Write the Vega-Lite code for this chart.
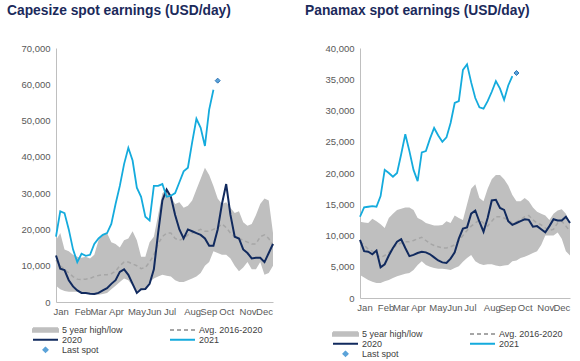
{
  "$schema": "https://vega.github.io/schema/vega-lite/v6.json",
  "background": "white",
  "padding": {"left": 7, "top": 4, "right": 5, "bottom": 5},
  "spacing": 28,
  "config": {
    "view": {"stroke": null},
    "font": "Liberation Sans",
    "axis": {"grid": false, "ticks": false, "domainColor": "#BFBFBF", "domainWidth": 1, "labelColor": "#595959", "labelFontSize": 9.5, "labelFont": "Liberation Sans", "title": null, "labelOverlap": false, "labelBound": false, "labelFlush": false},
    "axisY": {"labelPadding": 6},
    "axisX": {"labelPadding": 4},
    "title": {"fontSize": 13.8, "fontWeight": "bold", "color": "#1B2A5B", "anchor": "start", "font": "Liberation Sans", "frame": "group"},
    "legend": {"labelFont": "Liberation Sans", "labelFontSize": 9, "labelColor": "#404040", "symbolStrokeWidth": 2}
  },
  "datasets": {
    "cape": [
      {"week":1,"y2020":12800,"y2021":18000,"avg":11500,"high":17000,"low":4500},
      {"week":2,"y2020":9200,"y2021":25000,"avg":10000,"high":19000,"low":3500},
      {"week":3,"y2020":8800,"y2021":24500,"avg":9000,"high":14500,"low":3000},
      {"week":4,"y2020":6000,"y2021":20000,"avg":8000,"high":14000,"low":2800},
      {"week":5,"y2020":4300,"y2021":14500,"avg":7000,"high":13000,"low":2800},
      {"week":6,"y2020":3200,"y2021":11000,"avg":6300,"high":12500,"low":2800},
      {"week":7,"y2020":2500,"y2021":13300,"avg":6200,"high":12200,"low":2500},
      {"week":8,"y2020":2500,"y2021":12700,"avg":6300,"high":12500,"low":2500},
      {"week":9,"y2020":2300,"y2021":13000,"avg":6500,"high":12000,"low":2200},
      {"week":10,"y2020":2200,"y2021":16000,"avg":7000,"high":13000,"low":2000},
      {"week":11,"y2020":2500,"y2021":17500,"avg":7300,"high":17000,"low":2000},
      {"week":12,"y2020":3200,"y2021":18500,"avg":7500,"high":18500,"low":2200},
      {"week":13,"y2020":3800,"y2021":19000,"avg":7500,"high":19000,"low":2500},
      {"week":14,"y2020":5000,"y2021":21500,"avg":7800,"high":16500,"low":3500},
      {"week":15,"y2020":6000,"y2021":27000,"avg":8500,"high":16000,"low":4500},
      {"week":16,"y2020":8300,"y2021":32000,"avg":10000,"high":15000,"low":5500},
      {"week":17,"y2020":9000,"y2021":38000,"avg":11000,"high":17000,"low":6500},
      {"week":18,"y2020":7500,"y2021":42500,"avg":11000,"high":17500,"low":6000},
      {"week":19,"y2020":5000,"y2021":39000,"avg":10500,"high":19500,"low":4500},
      {"week":20,"y2020":2500,"y2021":31500,"avg":10000,"high":17000,"low":3000},
      {"week":21,"y2020":3500,"y2021":29000,"avg":9200,"high":12500,"low":3300},
      {"week":22,"y2020":3600,"y2021":23500,"avg":9500,"high":12500,"low":3500},
      {"week":23,"y2020":5000,"y2021":22500,"avg":11000,"high":16500,"low":5500},
      {"week":24,"y2020":9000,"y2021":32000,"avg":13000,"high":18000,"low":6500},
      {"week":25,"y2020":19000,"y2021":32000,"avg":16000,"high":24000,"low":7000},
      {"week":26,"y2020":28000,"y2021":32500,"avg":18000,"high":30000,"low":7500},
      {"week":27,"y2020":31000,"y2021":29000,"avg":19000,"high":31000,"low":7200},
      {"week":28,"y2020":29000,"y2021":29300,"avg":19000,"high":29000,"low":7000},
      {"week":29,"y2020":24000,"y2021":30000,"avg":17500,"high":27000,"low":6000},
      {"week":30,"y2020":20000,"y2021":33000,"avg":17000,"high":27500,"low":5500},
      {"week":31,"y2020":17500,"y2021":36000,"avg":17500,"high":26000,"low":5500},
      {"week":32,"y2020":20000,"y2021":37000,"avg":18500,"high":26500,"low":6000},
      {"week":33,"y2020":19500,"y2021":44000,"avg":19000,"high":28000,"low":6500},
      {"week":34,"y2020":19000,"y2021":50500,"avg":19500,"high":31000,"low":7000},
      {"week":35,"y2020":18500,"y2021":48000,"avg":20000,"high":34000,"low":8000},
      {"week":36,"y2020":17500,"y2021":43000,"avg":19500,"high":37000,"low":10000},
      {"week":37,"y2020":15500,"y2021":53000,"avg":19500,"high":35000,"low":11000},
      {"week":38,"y2020":15500,"y2021":58500,"avg":20000,"high":32000,"low":14000},
      {"week":39,"y2020":20000,"avg":20500,"high":28500,"low":13500},
      {"week":40,"y2020":27000,"avg":21500,"high":27000,"low":13000},
      {"week":41,"y2020":32500,"avg":20500,"high":27500,"low":13000},
      {"week":42,"y2020":24000,"avg":19000,"high":26000,"low":12000},
      {"week":43,"y2020":18000,"avg":18000,"high":24500,"low":10000},
      {"week":44,"y2020":17500,"avg":17500,"high":25000,"low":8500},
      {"week":45,"y2020":14500,"avg":17000,"high":22000,"low":9500},
      {"week":46,"y2020":13500,"avg":16500,"high":21000,"low":11000},
      {"week":47,"y2020":12000,"avg":16000,"high":21500,"low":9000},
      {"week":48,"y2020":12200,"avg":16000,"high":24000,"low":9000},
      {"week":49,"y2020":12200,"avg":18000,"high":27000,"low":11000},
      {"week":50,"y2020":11000,"avg":18500,"high":28500,"low":7500},
      {"week":51,"y2020":13500,"avg":17500,"high":28000,"low":8000},
      {"week":52,"y2020":16000,"avg":15500,"high":19000,"low":10000}
    ],
    "pana": [
      {"week":1,"y2020":9300,"y2021":13000,"avg":9000,"high":12200,"low":3700},
      {"week":2,"y2020":7500,"y2021":14500,"avg":8500,"high":12100,"low":3300},
      {"week":3,"y2020":7400,"y2021":14600,"avg":7800,"high":12000,"low":2900},
      {"week":4,"y2020":7000,"y2021":14700,"avg":7500,"high":12700,"low":2600},
      {"week":5,"y2020":7600,"y2021":14600,"avg":7000,"high":12300,"low":2400},
      {"week":6,"y2020":4900,"y2021":16300,"avg":6500,"high":11800,"low":2400},
      {"week":7,"y2020":5400,"y2021":20500,"avg":6800,"high":11200,"low":2700},
      {"week":8,"y2020":6800,"y2021":20000,"avg":7300,"high":12800,"low":2900},
      {"week":9,"y2020":8000,"y2021":19400,"avg":8000,"high":13500,"low":3200},
      {"week":10,"y2020":9000,"y2021":20000,"avg":8500,"high":14100,"low":3500},
      {"week":11,"y2020":9400,"y2021":23000,"avg":8800,"high":14300,"low":3700},
      {"week":12,"y2020":8000,"y2021":26200,"avg":9000,"high":14500,"low":3900},
      {"week":13,"y2020":6700,"y2021":23500,"avg":9000,"high":14500,"low":4000},
      {"week":14,"y2020":6900,"y2021":20500,"avg":9200,"high":14100,"low":4500},
      {"week":15,"y2020":7200,"y2021":18700,"avg":9500,"high":12800,"low":5300},
      {"week":16,"y2020":7400,"y2021":23300,"avg":9700,"high":12500,"low":5900},
      {"week":17,"y2020":7300,"y2021":23500,"avg":9200,"high":12000,"low":5300},
      {"week":18,"y2020":7000,"y2021":25500,"avg":8700,"high":11800,"low":5000},
      {"week":19,"y2020":6500,"y2021":27200,"avg":8400,"high":11600,"low":4800},
      {"week":20,"y2020":6000,"y2021":26000,"avg":8200,"high":11600,"low":4700},
      {"week":21,"y2020":5700,"y2021":25000,"avg":8000,"high":11700,"low":4700},
      {"week":22,"y2020":5600,"y2021":25700,"avg":8000,"high":12300,"low":4600},
      {"week":23,"y2020":6300,"y2021":28000,"avg":8200,"high":12000,"low":4500},
      {"week":24,"y2020":7300,"y2021":31200,"avg":8500,"high":13200,"low":4800},
      {"week":25,"y2020":9500,"y2021":31500,"avg":9200,"high":12800,"low":5100},
      {"week":26,"y2020":11100,"y2021":36500,"avg":10000,"high":12500,"low":5800},
      {"week":27,"y2020":11300,"y2021":37400,"avg":10800,"high":15000,"low":6400},
      {"week":28,"y2020":13500,"y2021":34500,"avg":11500,"high":17500,"low":6900},
      {"week":29,"y2020":14000,"y2021":32000,"avg":12000,"high":18200,"low":5900},
      {"week":30,"y2020":12200,"y2021":30500,"avg":12500,"high":16000,"low":5500},
      {"week":31,"y2020":10600,"y2021":30300,"avg":12000,"high":15500,"low":5300},
      {"week":32,"y2020":12800,"y2021":31500,"avg":11500,"high":17500,"low":5400},
      {"week":33,"y2020":15600,"y2021":33000,"avg":12300,"high":19000,"low":5400},
      {"week":34,"y2020":15700,"y2021":34700,"avg":13000,"high":19700,"low":5200},
      {"week":35,"y2020":14400,"y2021":33500,"avg":13000,"high":19700,"low":5100},
      {"week":36,"y2020":14100,"y2021":31700,"avg":12800,"high":19000,"low":5200},
      {"week":37,"y2020":12300,"y2021":34000,"avg":12500,"high":18000,"low":5300},
      {"week":38,"y2020":11700,"y2021":35500,"avg":12000,"high":16500,"low":5900},
      {"week":39,"y2020":12000,"avg":12200,"high":15500,"low":6000},
      {"week":40,"y2020":12300,"avg":12500,"high":15500,"low":6400},
      {"week":41,"y2020":12600,"avg":13000,"high":16000,"low":6600},
      {"week":42,"y2020":12500,"avg":13200,"high":15500,"low":6900},
      {"week":43,"y2020":11400,"avg":12500,"high":14500,"low":7200},
      {"week":44,"y2020":11500,"avg":12000,"high":13800,"low":7500},
      {"week":45,"y2020":11000,"avg":11700,"high":13500,"low":8500},
      {"week":46,"y2020":10500,"avg":11200,"high":13200,"low":10000},
      {"week":47,"y2020":11500,"avg":10800,"high":12500,"low":10000},
      {"week":48,"y2020":12600,"avg":11000,"high":13500,"low":10000},
      {"week":49,"y2020":12400,"avg":12000,"high":14000,"low":10500},
      {"week":50,"y2020":12400,"avg":12300,"high":14200,"low":9500},
      {"week":51,"y2020":13000,"avg":11500,"high":13500,"low":7500},
      {"week":52,"y2020":12000,"avg":10700,"high":12000,"low":6800}
    ],
    "capeSpot": [{"week":39,"value":61000}],
    "panaSpot": [{"week":39,"value":36000}]
  },
  "hconcat": [
    {
      "width": 217,
      "height": 254,
      "title": {"text": "Capesize spot earnings (USD/day)", "dx": -49, "offset": 25},
      "encoding": {
        "x": {"field": "week", "type": "quantitative", "scale": {"domain": [1, 52], "nice": false, "zero": false},
              "axis": {"values": [2.1, 7.2, 10.9, 15.1, 19.9, 23.9, 27.7, 33.0, 36.8, 41.0, 46.0, 49.9],
                       "labelExpr": "datum.value < 4 ? 'Jan' : datum.value < 9 ? 'Feb' : datum.value < 13 ? 'Mar' : datum.value < 17 ? 'Apr' : datum.value < 22 ? 'May' : datum.value < 26 ? 'Jun' : datum.value < 30 ? 'Jul' : datum.value < 35 ? 'Aug' : datum.value < 39 ? 'Sep' : datum.value < 44 ? 'Oct' : datum.value < 48 ? 'Nov' : 'Dec'"}}
      },
      "layer": [
        {
          "data": {"name": "cape"},
          "mark": {"type": "area", "opacity": 1},
          "encoding": {
            "y": {"field": "low", "type": "quantitative", "scale": {"domain": [0, 70000], "nice": false},
                  "axis": {"values": [0, 10000, 20000, 30000, 40000, 50000, 60000, 70000], "format": ",d"}},
            "y2": {"field": "high"},
            "color": {"datum": "5 year high/low", "type": "nominal",
              "scale": {"domain": ["5 year high/low", "Avg. 2016-2020", "2020", "2021", "Last spot"], "range": ["#BFBFBF", "#A6A6A6", "#112A5E", "#14ABDD", "#5BA3D9"]},
              "legend": {"title": null, "orient": "none", "legendX": -24, "legendY": 277, "direction": "horizontal", "columns": 2, "symbolSize": 625, "symbolStrokeWidth": 2, "labelOffset": 3, "columnPadding": 46, "rowPadding": 0, "clipHeight": 9.7, "padding": 0}}
          }
        },
        {
          "data": {"name": "cape"},
          "mark": {"type": "line", "strokeWidth": 1.5},
          "encoding": {
            "y": {"field": "avg", "type": "quantitative", "scale": {"domain": [0, 70000], "nice": false},
                  "axis": {"values": [0, 10000, 20000, 30000, 40000, 50000, 60000, 70000], "format": ",d"}},
            "color": {"datum": "Avg. 2016-2020", "type": "nominal"},
            "strokeDash": {"datum": "Avg. 2016-2020", "type": "nominal",
              "scale": {"domain": ["5 year high/low", "Avg. 2016-2020", "2020", "2021", "Last spot"], "range": [[1, 0], [4, 3], [1, 0], [1, 0], [1, 0]]}}
          }
        },
        {
          "data": {"name": "cape"},
          "mark": {"type": "line", "strokeWidth": 2},
          "encoding": {
            "y": {"field": "y2020", "type": "quantitative", "scale": {"domain": [0, 70000], "nice": false},
                  "axis": {"values": [0, 10000, 20000, 30000, 40000, 50000, 60000, 70000], "format": ",d"}},
            "color": {"datum": "2020", "type": "nominal"}}
        },
        {
          "data": {"name": "cape"},
          "mark": {"type": "line", "strokeWidth": 1.8},
          "encoding": {
            "y": {"field": "y2021", "type": "quantitative", "scale": {"domain": [0, 70000], "nice": false},
                  "axis": {"values": [0, 10000, 20000, 30000, 40000, 50000, 60000, 70000], "format": ",d"}},
            "color": {"datum": "2021", "type": "nominal"}}
        },
        {
          "data": {"name": "capeSpot"},
          "mark": {"type": "point", "filled": true, "size": 977, "stroke": "#2E75B6", "strokeWidth": 1, "opacity": 1},
          "encoding": {
            "y": {"field": "value", "type": "quantitative", "scale": {"domain": [0, 70000], "nice": false},
                  "axis": {"values": [0, 10000, 20000, 30000, 40000, 50000, 60000, 70000], "format": ",d"}},
            "color": {"datum": "Last spot", "type": "nominal"},
            "shape": {"datum": "Last spot", "type": "nominal",
              "scale": {"domain": ["5 year high/low", "Avg. 2016-2020", "2020", "2021", "Last spot"], "range": ["M-1,-0.14H1V0.14H-1Z", "stroke", "stroke", "stroke", "M0,-0.16L0.16,0L0,0.16L-0.16,0Z"]}}
          }
        }
      ]
    },
    {
      "width": 210,
      "height": 250,
      "title": {"text": "Panamax spot earnings (USD/day)", "dx": -55, "offset": 25},
      "encoding": {
        "x": {"field": "week", "type": "quantitative", "scale": {"domain": [1, 52], "nice": false, "zero": false},
              "axis": {"values": [2.1, 7.2, 10.9, 15.1, 19.9, 23.9, 27.7, 33.0, 36.8, 41.0, 46.0, 49.9],
                       "labelExpr": "datum.value < 4 ? 'Jan' : datum.value < 9 ? 'Feb' : datum.value < 13 ? 'Mar' : datum.value < 17 ? 'Apr' : datum.value < 22 ? 'May' : datum.value < 26 ? 'Jun' : datum.value < 30 ? 'Jul' : datum.value < 35 ? 'Aug' : datum.value < 39 ? 'Sep' : datum.value < 44 ? 'Oct' : datum.value < 48 ? 'Nov' : 'Dec'"}}
      },
      "layer": [
        {
          "data": {"name": "pana"},
          "mark": {"type": "area", "opacity": 1},
          "encoding": {
            "y": {"field": "low", "type": "quantitative", "scale": {"domain": [0, 40000], "nice": false},
                  "axis": {"values": [0, 5000, 10000, 15000, 20000, 25000, 30000, 35000, 40000], "format": ",d"}},
            "y2": {"field": "high"},
            "color": {"datum": "5 year high/low", "type": "nominal",
              "scale": {"domain": ["5 year high/low", "Avg. 2016-2020", "2020", "2021", "Last spot"], "range": ["#BFBFBF", "#A6A6A6", "#112A5E", "#14ABDD", "#5BA3D9"]},
              "legend": {"title": null, "orient": "none", "legendX": -28, "legendY": 281, "direction": "horizontal", "columns": 2, "symbolSize": 625, "symbolStrokeWidth": 2, "labelOffset": 3, "columnPadding": 46, "rowPadding": 0, "clipHeight": 9.7, "padding": 0}}
          }
        },
        {
          "data": {"name": "pana"},
          "mark": {"type": "line", "strokeWidth": 1.5},
          "encoding": {
            "y": {"field": "avg", "type": "quantitative", "scale": {"domain": [0, 40000], "nice": false},
                  "axis": {"values": [0, 5000, 10000, 15000, 20000, 25000, 30000, 35000, 40000], "format": ",d"}},
            "color": {"datum": "Avg. 2016-2020", "type": "nominal"},
            "strokeDash": {"datum": "Avg. 2016-2020", "type": "nominal",
              "scale": {"domain": ["5 year high/low", "Avg. 2016-2020", "2020", "2021", "Last spot"], "range": [[1, 0], [4, 3], [1, 0], [1, 0], [1, 0]]}}
          }
        },
        {
          "data": {"name": "pana"},
          "mark": {"type": "line", "strokeWidth": 2},
          "encoding": {
            "y": {"field": "y2020", "type": "quantitative", "scale": {"domain": [0, 40000], "nice": false},
                  "axis": {"values": [0, 5000, 10000, 15000, 20000, 25000, 30000, 35000, 40000], "format": ",d"}},
            "color": {"datum": "2020", "type": "nominal"}}
        },
        {
          "data": {"name": "pana"},
          "mark": {"type": "line", "strokeWidth": 1.8},
          "encoding": {
            "y": {"field": "y2021", "type": "quantitative", "scale": {"domain": [0, 40000], "nice": false},
                  "axis": {"values": [0, 5000, 10000, 15000, 20000, 25000, 30000, 35000, 40000], "format": ",d"}},
            "color": {"datum": "2021", "type": "nominal"}}
        },
        {
          "data": {"name": "panaSpot"},
          "mark": {"type": "point", "filled": true, "size": 977, "stroke": "#2E75B6", "strokeWidth": 1, "opacity": 1},
          "encoding": {
            "y": {"field": "value", "type": "quantitative", "scale": {"domain": [0, 40000], "nice": false},
                  "axis": {"values": [0, 5000, 10000, 15000, 20000, 25000, 30000, 35000, 40000], "format": ",d"}},
            "color": {"datum": "Last spot", "type": "nominal"},
            "shape": {"datum": "Last spot", "type": "nominal",
              "scale": {"domain": ["5 year high/low", "Avg. 2016-2020", "2020", "2021", "Last spot"], "range": ["M-1,-0.14H1V0.14H-1Z", "stroke", "stroke", "stroke", "M0,-0.16L0.16,0L0,0.16L-0.16,0Z"]}}
          }
        }
      ]
    }
  ],
  "resolve": {
    "scale": {"color": "independent", "shape": "independent", "strokeDash": "independent", "x": "independent", "y": "independent"},
    "legend": {"color": "independent", "shape": "independent", "strokeDash": "independent"}
  }
}
